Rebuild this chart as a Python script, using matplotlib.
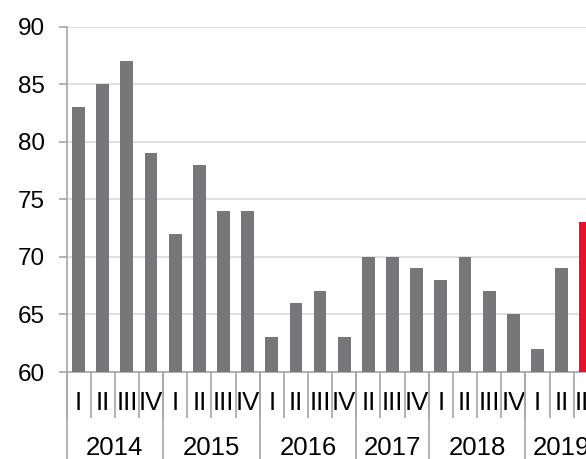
import matplotlib
matplotlib.use("Agg")
import matplotlib.pyplot as plt
import numpy as np

plt.rcParams['font.family'] = ['Liberation Sans', 'DejaVu Sans']

years = ["2014", "2015", "2016", "2017", "2018", "2019"]
quarters = [
    ["I", "II", "III", "IV"],
    ["I", "II", "III", "IV"],
    ["I", "II", "III", "IV"],
    ["II", "III", "IV"],
    ["I", "II", "III", "IV"],
    ["I", "II", "III"],
]
values = [83, 85, 87, 79,
          72, 78, 74, 74,
          63, 66, 67, 63,
          70, 70, 69,
          68, 70, 67, 65,
          62, 69, 73]

gray = "#77777a"
red = "#e8112d"
line_gray = "#a6a6a6"

labels = [q for qs in quarters for q in qs]
n = len(values)
x = np.arange(n)
colors = [gray] * (n - 1) + [red]

fig = plt.figure(figsize=(5.86, 4.59), dpi=100)
ax = fig.add_axes([0.1135, 0.1895, 0.9067, 0.7523])

ax.bar(x, values, width=0.53, color=colors, zorder=3)
ax.set_ylim(60, 90)
ax.set_xlim(-0.5, n - 0.5)
ax.set_yticks(np.arange(60, 91, 5))
ax.yaxis.grid(True, color="#d9d9d9", linewidth=1.2, zorder=0)
ax.set_axisbelow(True)

for s in ["top", "right"]:
    ax.spines[s].set_visible(False)
for s in ["left", "bottom"]:
    ax.spines[s].set_color(line_gray)
    ax.spines[s].set_linewidth(1.2)

ax.tick_params(axis="y", direction="out", length=5.8, width=1.2, color=line_gray,
               labelsize=17.5, pad=10)
ax.set_xticks(x)
ax.set_xticklabels(labels)
ax.tick_params(axis="x", which="major", length=0, labelsize=18.5, pad=14)
ax.set_xticks(np.arange(-0.5, n, 1.0), minor=True)
ax.tick_params(axis="x", which="minor", direction="out", length=33, width=1.2,
               color=line_gray)

# year separators and labels
trans = ax.get_xaxis_transform()
counts = [len(q) for q in quarters]
starts = np.concatenate([[0], np.cumsum(counts)[:-1]])
for yr, st, c in zip(years, starts, counts):
    ax.vlines(st - 0.5, 0, -0.3, transform=trans, color=line_gray, linewidth=1.2,
              clip_on=False)
    ax.text(st + (c - 1) / 2, -0.22, yr, transform=trans, ha="center", va="center",
            fontsize=18.5)

fig.savefig("out.png", dpi=100)
